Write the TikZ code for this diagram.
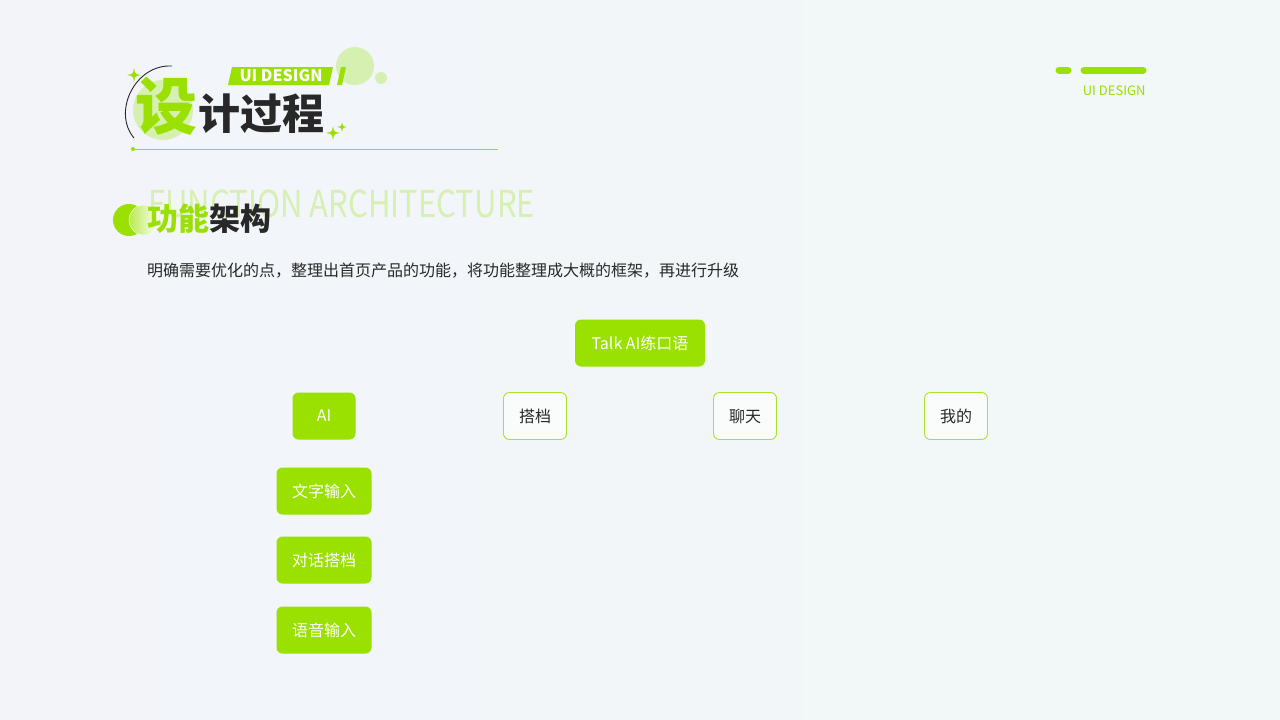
\documentclass[tikz,border=0pt]{standalone}
\usepackage{fontspec}
\setmainfont{Noto Sans CJK SC}
\definecolor{lime}{RGB}{154,224,0}
\definecolor{palelime}{RGB}{214,240,178}
\definecolor{ink}{RGB}{40,40,40}
\definecolor{bgleft}{RGB}{242,244,250}
\definecolor{bgright}{RGB}{242,248,247}
\tikzset{
  fill box/.style={rounded corners=6pt, fill=lime, text=white, minimum height=47pt,
    font=\fontsize{16}{19}\selectfont},
  line box/.style={rounded corners=6pt, draw=lime!85!white, line width=0.9pt, fill=white!60!bgright, text=ink,
    minimum height=47pt, minimum width=63pt, font=\fontsize{16}{19}\selectfont}
}
\newcommand{\sparkle}[3]{%
  \fill[lime] (#1,#2-#3) .. controls (#1+0.15*#3,#2-0.15*#3) .. (#1+#3,#2)
    .. controls (#1+0.15*#3,#2+0.15*#3) .. (#1,#2+#3)
    .. controls (#1-0.15*#3,#2+0.15*#3) .. (#1-#3,#2)
    .. controls (#1-0.15*#3,#2-0.15*#3) .. cycle;}
\begin{document}
\begin{tikzpicture}[x=1pt,y=-1pt]
  \useasboundingbox (0,0) rectangle (1280,720);
  \shade[left color=bgleft, right color=bgright] (0,0) rectangle (1280,720);
  % title
  \fill[palelime] (163,110) circle (30);
  \fill[palelime] (355,66) circle (19);
  \fill[palelime] (381,78) circle (6);
  \draw[ink, line width=0.9pt] (134,138) .. controls (112,112) and (135,64) .. (172,66);
  \fill[lime] (232,67) -- (333,67) -- (329,85) -- (228,85) -- cycle;
  \fill[lime] (341,67) -- (346,67) -- (342,85) -- (337,85) -- cycle;
  \node[text=white, font=\fontsize{16}{18}\bfseries] (tag) at (281,76) {UI DESIGN};
  \node[text=lime, font=\fontsize{62}{62}\bfseries] (she) at (166,106) {设};
  \node[text=ink, font=\fontsize{42}{42}\bfseries, anchor=west] (title) at (195,114) {计过程};
  \sparkle{134}{75}{7}
  \sparkle{333}{133}{7}
  \sparkle{342}{127}{5}
  \draw[lime, line width=0.8pt] (132,149) -- (498,149);
  \fill[lime] (133,149) circle (2);
  % top right
  \draw[lime, line width=7pt, line cap=round] (1059,70) -- (1068,70);
  \draw[lime, line width=7pt, line cap=round] (1084,70) -- (1143,70);
  \node[text=lime, font=\fontsize{13}{15}\selectfont, anchor=east] (corner) at (1149,91) {UI DESIGN};
  % section heading
  \node[text=palelime, font=\fontsize{37}{40}\selectfont, anchor=west, inner sep=0pt, xscale=0.84] (eng) at (148,204) {FUNCTION ARCHITECTURE};
  \fill[lime] (129,220) circle (16);
  \shade[left color=lime!70!white, right color=white, draw=white] (144,220) circle (15);
  \node[font=\fontsize{31}{34}\bfseries, anchor=west, inner sep=0pt] (head) at (147,219)
    {\textcolor{lime}{功能}\textcolor{ink}{架构}};
  \node[text=ink, font=\fontsize{16}{19}\selectfont, anchor=west, inner sep=0pt] (desc) at (147,271)
    {明确需要优化的点，整理出首页产品的功能，将功能整理成大概的框架，再进行升级};
  % tree
  \node[fill box, minimum width=130pt] (talk) at (640,343) {Talk AI练口语};
  \node[fill box, minimum width=63pt] (ai) at (324,416) {AI};
  \node[line box] (partner) at (535,416) {搭档};
  \node[line box] (chat) at (745,416) {聊天};
  \node[line box] (mine) at (956,416) {我的};
  \foreach \y/\n/\t in {491/textin/文字输入, 560/dialog/对话搭档, 630/voice/语音输入}
    \node[fill box, minimum width=95pt] (\n) at (324,\y) {\t};
\end{tikzpicture}
\end{document}
